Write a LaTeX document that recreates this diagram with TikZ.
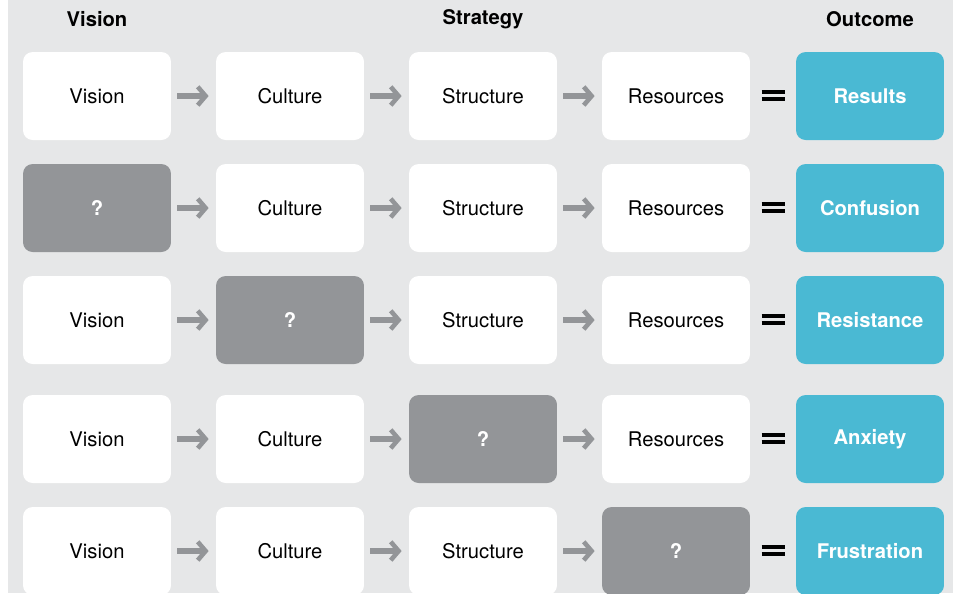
\documentclass[tikz,border=0pt]{standalone}
\usepackage{fontspec}
\setmainfont{TeX Gyre Heros}
\usetikzlibrary{arrows.meta,calc}
\definecolor{bggray}{HTML}{E6E7E8}
\definecolor{qgray}{HTML}{939598}
\definecolor{outcyan}{HTML}{4AB9D3}
\tikzset{
  box/.style={fill=white, rounded corners=5.5pt, minimum width=2.96cm,
    minimum height=1.76cm, font=\fontsize{11.5}{13}\selectfont},
  qbox/.style={box, fill=qgray, text=white,
    font=\fontsize{11.5}{13}\selectfont\bfseries},
  outbox/.style={box, fill=outcyan, text=white,
    font=\fontsize{11.5}{13}\selectfont\bfseries},
  head/.style={font=\fontsize{11.5}{13}\selectfont\bfseries},
  flow/.style={draw=qgray, line width=3.4pt, shorten <=3.4pt, shorten >=4pt,
    -{Straight Barb[length=4.5pt,width=10.5pt,line width=2.6pt]}},
  eqbar/.style={line width=2.3pt},
}
\begin{document}
\begin{tikzpicture}[x=0.02cm, y=-0.02cm]
    \useasboundingbox (0,0) rectangle (953,593);
    \fill[bggray] (8,0) rectangle (953,593);
    % headings
    \node[head] (hvision) at (97,19) {Vision};
    \node[head] (hstrategy) at (483,19) {Strategy};
    \node[head] (houtcome) at (870,19) {Outcome};
    % row 1
    \node[box] (r1-1) at (97,96) {Vision};
    \node[box] (r1-2) at (290,96) {Culture};
    \node[box] (r1-3) at (483,96) {Structure};
    \node[box] (r1-4) at (676,96) {Resources};
    \node[outbox] (r1-5) at (870,96) {Results};
    % row 2
    \node[qbox] (r2-1) at (97,208) {?};
    \node[box] (r2-2) at (290,208) {Culture};
    \node[box] (r2-3) at (483,208) {Structure};
    \node[box] (r2-4) at (676,208) {Resources};
    \node[outbox] (r2-5) at (870,208) {Confusion};
    % row 3
    \node[box] (r3-1) at (97,320) {Vision};
    \node[qbox] (r3-2) at (290,320) {?};
    \node[box] (r3-3) at (483,320) {Structure};
    \node[box] (r3-4) at (676,320) {Resources};
    \node[outbox] (r3-5) at (870,320) {Resistance};
    % row 4
    \node[box] (r4-1) at (97,439) {Vision};
    \node[box] (r4-2) at (290,439) {Culture};
    \node[qbox] (r4-3) at (483,439) {?};
    \node[box] (r4-4) at (676,439) {Resources};
    \node[outbox] (r4-5) at (870,439) {Anxiety};
    % row 5
    \node[box] (r5-1) at (97,551) {Vision};
    \node[box] (r5-2) at (290,551) {Culture};
    \node[box] (r5-3) at (483,551) {Structure};
    \node[qbox] (r5-4) at (676,551) {?};
    \node[outbox] (r5-5) at (870,551) {Frustration};
    % arrows and equals
    \foreach \r in {1,...,5}{
      \foreach \c/\n in {1/2,2/3,3/4}
        \draw[flow] (r\r-\c) -- (r\r-\n);
      \draw[eqbar] ($(r\r-4.east)!.5!(r\r-5.west)+(-11.5,-4)$) -- +(23,0);
      \draw[eqbar] ($(r\r-4.east)!.5!(r\r-5.west)+(-11.5,3)$) -- +(23,0);
    }
  \end{tikzpicture}
\end{document}
